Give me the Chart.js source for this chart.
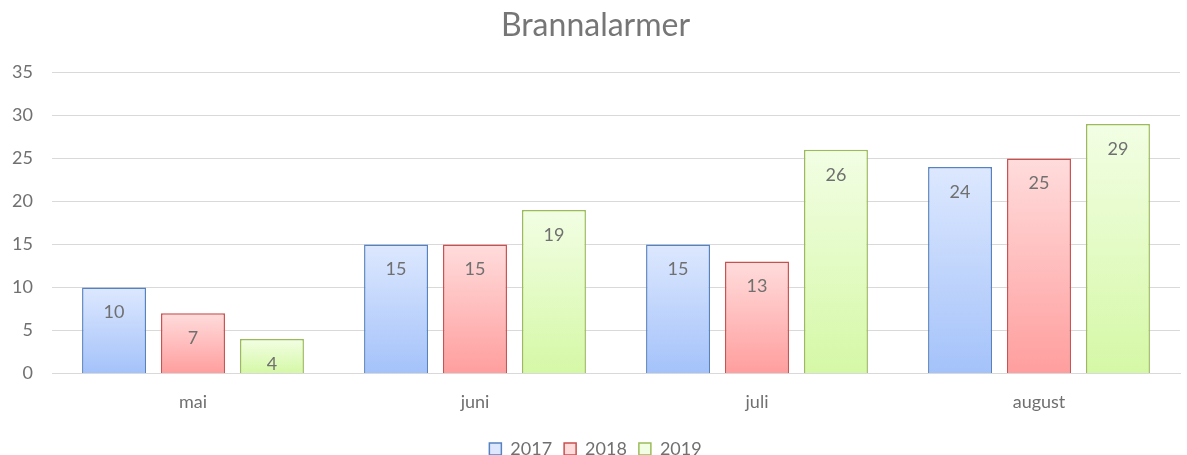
<!DOCTYPE html>
<html>
<head>
<meta charset="utf-8">
<script src="https://cdn.jsdelivr.net/npm/chart.js@4"></script>
<style>
  body { margin: 0; background: #fff; }
  #wrap { width: 1187px; height: 455px; position: relative; }
</style>
</head>
<body>
<div id="wrap"><canvas id="mycanvas"></canvas></div>
<script>
var months = ["mai", "juni", "juli", "august"];
var years = ["2017", "2018", "2019"];
var alarms2017 = [10, 15, 15, 24];
var alarms2018 = [7, 15, 13, 25];
var alarms2019 = [4, 19, 26, 29];

var textColor = "#707070";

// top colour, bottom colour, border
var looks = [
	["#dde8fe", "#a4c2fa", "#5682c1"],
	["#ffdcdc", "#ff9e9e", "#c9504e"],
	["#f2fee4", "#d5f8a6", "#9bbb59"]
];

function barFill(i) {
	return function(context) {
		var chart = context.chart;
		var y = chart.scales.y;
		if (!y || context.raw === undefined) return looks[i][1];
		var top = y.getPixelForValue(context.raw);
		var bottom = y.getPixelForValue(0);
		if (!isFinite(top) || !isFinite(bottom) || top === bottom) return looks[i][1];
		var g = chart.ctx.createLinearGradient(0, top, 0, bottom);
		g.addColorStop(0, looks[i][0]);
		g.addColorStop(1, looks[i][1]);
		return g;
	};
}

var valueLabels = {
	id: "valueLabels",
	afterDatasetsDraw: function(chart) {
		var ctx = chart.ctx;
		ctx.save();
		ctx.font = "18px Lato";
		ctx.fillStyle = textColor;
		ctx.textAlign = "center";
		ctx.textBaseline = "middle";
		chart.data.datasets.forEach(function(ds, d) {
			var meta = chart.getDatasetMeta(d);
			meta.data.forEach(function(el, k) {
				ctx.fillText(ds.data[k], el.x, el.y + 25);
			});
		});
		ctx.restore();
	}
};

var series = [alarms2017, alarms2018, alarms2019];
var datasets = [];
for (var i in years) {
	datasets.push({
		label: years[i],
		data: series[i],
		backgroundColor: barFill(i),
		borderColor: looks[i][2],
		borderWidth: 1.5,
		borderSkipped: "bottom",
		categoryPercentage: 0.84,
		barPercentage: 0.81
	});
}

var ctx = document.getElementById("mycanvas");

var BarGraph = new Chart(ctx, {
	type: "bar",
	data: { labels: months, datasets: datasets },
	plugins: [valueLabels],
	options: {
		responsive: true,
		maintainAspectRatio: false,
		animation: false,
		layout: { padding: { left: 11, right: 7, top: 0, bottom: -13 } },
		plugins: {
			title: {
				display: true,
				text: "Brannalarmer",
				color: "#767676",
				font: { family: "Lato", size: 32, weight: "normal" },
				padding: { top: 6, bottom: 28 }
			},
			legend: {
				position: "bottom",
				labels: {
					color: textColor,
					font: { family: "Lato", size: 18 },
					boxWidth: 12,
					boxHeight: 12,
					padding: 12,
					generateLabels: function(chart) {
						return years.map(function(y, i) {
							return {
								text: y,
								fillStyle: looks[i][0],
								strokeStyle: looks[i][2],
								lineWidth: 1.5,
								fontColor: textColor,
								datasetIndex: i
							};
						});
					}
				}
			},
			tooltip: { enabled: false }
		},
		scales: {
			x: {
				grid: { display: false, drawTicks: false },
				border: { color: "#d9d9d9", width: 1 },
				ticks: { color: textColor, font: { family: "Lato", size: 18 }, padding: 18 },
				afterFit: function(axis) { axis.height -= 3; }
			},
			y: {
				min: 0,
				max: 35,
				ticks: { stepSize: 5, color: textColor, font: { family: "Lato", size: 18 }, padding: 19 },
				grid: { color: "#d9d9d9", drawTicks: false },
				border: { display: false },
				afterFit: function(axis) { axis.width = 41; }
			}
		}
	}
});
</script>
</body>
</html>
